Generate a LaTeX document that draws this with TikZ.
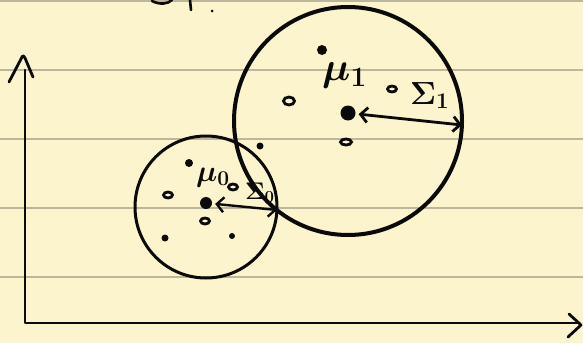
\RequirePackage{fix-cm}
\documentclass[tikz,border=0pt]{standalone}
\usetikzlibrary{arrows.meta,shapes.geometric}
\definecolor{notepad}{HTML}{FBF4CC}
\definecolor{noteline}{HTML}{BDB69E}
\definecolor{pen}{HTML}{0A0A0A}

\begin{document}
\begin{tikzpicture}[
        x=1pt,y=-1pt,
        cluster/.style={circle,draw=pen,inner sep=0pt},
        mean/.style={circle,fill=pen,inner sep=0pt,minimum size=15pt},
        sample/.style={ellipse,draw=pen,line width=2.8pt,inner sep=0pt,
          minimum width=9pt,minimum height=6pt},
        blob/.style={circle,fill=pen,inner sep=0pt,minimum size=7pt},
        spread/.style={{Straight Barb[length=7pt,width=15pt]}-{Straight Barb[length=7pt,width=15pt]},
          draw=pen,line width=2.8pt,shorten <=3pt},
        axis/.style={draw=pen,line width=2.8pt,line cap=round,line join=round},
        biglab/.style={anchor=base west,inner sep=0pt,text=pen,
          font=\fontsize{40}{44}\selectfont\boldmath},
        smalllab/.style={anchor=base west,inner sep=0pt,text=pen,
          font=\fontsize{30}{34}\selectfont\boldmath}
      ]
        \fill[notepad] (0,0) rectangle (583,343);
        \useasboundingbox (0,0) rectangle (583,343);
        \foreach \y in {1,70,139,208,277}
          \draw[noteline,line width=1.6pt] (0,\y) -- (583,\y);

        \draw[pen,line width=2.6pt,line cap=round] (152,1) .. controls (160,5) and (168,4) .. (172,0);
        \draw[pen,line width=2.6pt,line cap=round] (190,0) -- (191,10);
        \fill[pen] (212,11) circle (1.5pt);

        \coordinate (ytop) at (25,70);
        \coordinate (origin) at (25,323);
        \coordinate (xend) at (579,323);
        \draw[axis] (ytop) -- (origin) -- (xend);
        \draw[axis] (9,82) -- (21,59) .. controls (23,55) .. (25,58) -- (33,77);
        \draw[axis] (569,314) -- (581,325) -- (568,337);

        \node[cluster,line width=4pt,minimum size=228pt] (big) at (348,121) {};
        \node[cluster,line width=3pt,minimum size=142pt] (small) at (206,207) {};

        \node[mean] (mu1) at (348,113) {};
        \node[mean,minimum size=12pt] (mu0) at (206,203) {};
        \coordinate (rim1) at (462,125);
        \coordinate (rim0) at (277,210);
        \draw[spread] (mu1) -- (rim1);
        \draw[spread,line width=2.4pt] (mu0) -- (rim0);

        \node[biglab] (mu1lab) at (322,80) {$\mu_1$};
        \node[biglab,font=\fontsize{32}{36}\selectfont\boldmath] (sig1lab) at (410,104) {$\Sigma_1$};
        \node[smalllab] (mu0lab) at (196,181) {$\mu_0$};
        \node[smalllab,font=\fontsize{24}{28}\selectfont\boldmath] (sig0lab) at (245,199) {$\Sigma_0$};

        \node[blob,minimum size=10pt] (p1) at (322,50) {};
        \node[sample,minimum width=11pt,minimum height=8pt] (p2) at (289,101) {};
        \node[sample] (p3) at (392,89) {};
        \node[sample,minimum width=11pt] (p4) at (346,142) {};
        \node[blob] (p5) at (260,146) {};

        \node[blob,minimum size=8pt] (q1) at (189,163) {};
        \node[sample] (q2) at (168,195) {};
        \node[sample] (q3) at (233,187) {};
        \node[sample] (q4) at (205,221) {};
        \node[blob] (q5) at (165,238) {};
        \node[blob,minimum size=6pt] (q6) at (232,236) {};
      \end{tikzpicture}
\end{document}
